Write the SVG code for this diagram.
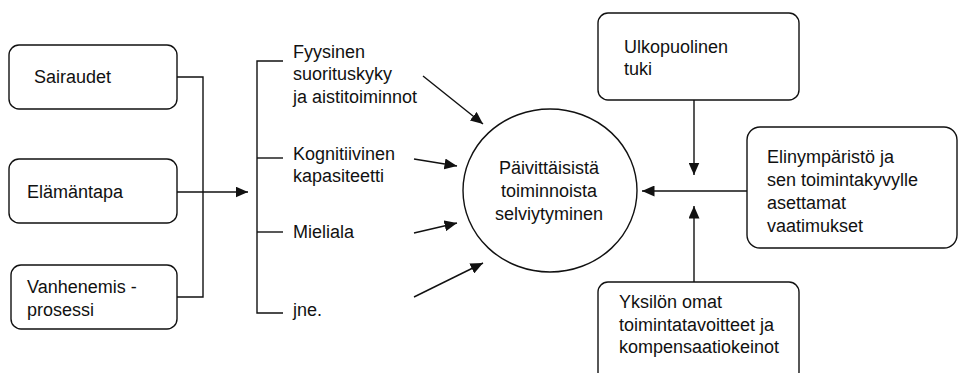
<svg xmlns="http://www.w3.org/2000/svg" width="959" height="373" viewBox="0 0 959 373">
<style>
.box{fill:#fff;stroke:#111;stroke-width:1.4}
.ln{fill:none;stroke:#111;stroke-width:1.4}
.t{font-family:"Liberation Sans",Arial,sans-serif;font-size:18px;fill:#111}
.c{text-anchor:middle}
</style>
<defs>
<marker id="ah" markerUnits="userSpaceOnUse" markerWidth="13" markerHeight="11" refX="12.5" refY="5.5" orient="auto">
<path d="M0,0 L12.5,5.5 L0,11 z" fill="#111"/>
</marker>
</defs>
<rect width="959" height="373" fill="#fff"/>
<g id="connectors">
<polyline class="ln" points="177,77 203,77 203,297 177,297"/>
<line class="ln" x1="177" y1="192" x2="248" y2="192" marker-end="url(#ah)"/>
<polyline class="ln" points="283,61 257,61 257,313 283,313"/>
<line class="ln" x1="257" y1="158" x2="283" y2="158"/>
<line class="ln" x1="257" y1="232" x2="283" y2="232"/>
<line class="ln" x1="423" y1="76" x2="483" y2="124" marker-end="url(#ah)"/>
<line class="ln" x1="414" y1="159" x2="457" y2="166" marker-end="url(#ah)"/>
<line class="ln" x1="414" y1="233" x2="457" y2="223" marker-end="url(#ah)"/>
<line class="ln" x1="414" y1="297" x2="483" y2="263" marker-end="url(#ah)"/>
<line class="ln" x1="694" y1="100" x2="694" y2="175" marker-end="url(#ah)"/>
<line class="ln" x1="747" y1="191" x2="642" y2="191" marker-end="url(#ah)"/>
<line class="ln" x1="694" y1="282" x2="694" y2="206" marker-end="url(#ah)"/>
</g>
<g id="sairaudet">
<rect class="box" x="9" y="45" width="168" height="64" rx="10"/>
<text class="t" x="34" y="83">Sairaudet</text>
</g>
<g id="elamantapa">
<rect class="box" x="9" y="159" width="168" height="64" rx="10"/>
<text class="t" x="27" y="198">Elämäntapa</text>
</g>
<g id="vanhenemis">
<rect class="box" x="11" y="265" width="166" height="64" rx="10"/>
<text class="t" x="27" y="293">Vanhenemis -</text>
<text class="t" x="27" y="316">prosessi</text>
</g>
<g id="fyysinen">
<text class="t" x="293" y="58">Fyysinen</text>
<text class="t" x="293" y="80">suorituskyky</text>
<text class="t" x="293" y="103">ja aistitoiminnot</text>
</g>
<g id="kognitiivinen">
<text class="t" x="293" y="160">Kognitiivinen</text>
<text class="t" x="293" y="182">kapasiteetti</text>
</g>
<g id="mieliala">
<text class="t" x="293" y="238">Mieliala</text>
</g>
<g id="jne">
<text class="t" x="293" y="316">jne.</text>
</g>
<g id="selviytyminen">
<ellipse class="box" cx="550" cy="190.5" rx="87" ry="81.5"/>
<text class="t c" x="549" y="174">Päivittäisistä</text>
<text class="t c" x="549" y="197">toiminnoista</text>
<text class="t c" x="549" y="220">selviytyminen</text>
</g>
<g id="ulkopuolinen">
<rect class="box" x="598" y="13" width="201" height="87" rx="10"/>
<text class="t" x="624" y="53">Ulkopuolinen</text>
<text class="t" x="624" y="75">tuki</text>
</g>
<g id="elinymparisto">
<rect class="box" x="747" y="127" width="210" height="121" rx="13"/>
<text class="t" x="767" y="163">Elinympäristö ja</text>
<text class="t" x="767" y="186">sen toimintakyvylle</text>
<text class="t" x="767" y="209">asettamat</text>
<text class="t" x="767" y="232">vaatimukset</text>
</g>
<g id="yksilon">
<rect class="box" x="598" y="282" width="201" height="100" rx="10"/>
<text class="t" x="619" y="308">Yksilön omat</text>
<text class="t" x="619" y="331">toimintatavoitteet ja</text>
<text class="t" x="619" y="353">kompensaatiokeinot</text>
</g>
</svg>
